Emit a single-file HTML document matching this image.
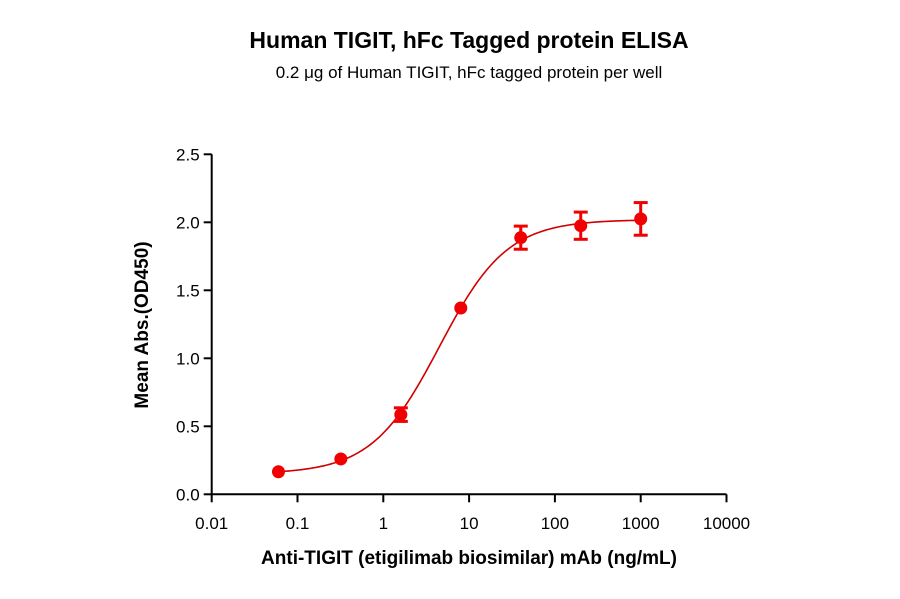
<!DOCTYPE html>
<html><head><meta charset="utf-8"><style>
body{margin:0;background:#fff}
svg text{font-family:"Liberation Sans",Arial,sans-serif}
</style></head><body>
<svg width="900" height="594" viewBox="0 0 900 594" xmlns="http://www.w3.org/2000/svg">
<text x="469" y="48" text-anchor="middle" font-size="23" font-weight="bold">Human TIGIT, hFc Tagged protein ELISA</text>
<text x="469" y="78" text-anchor="middle" font-size="17">0.2 μg of Human TIGIT, hFc tagged protein per well</text>
<g id="axes"></g>
<g id="marks"></g>
<text x="469" y="564" text-anchor="middle" font-size="19" font-weight="bold">Anti-TIGIT (etigilimab biosimilar) mAb (ng/mL)</text>
<text transform="translate(148,325) rotate(-90)" text-anchor="middle" font-size="19" font-weight="bold">Mean Abs.(OD450)</text>
</svg>
<script>
const concentrations=[0.06,0.32,1.6,8,40,200,1000];
const meanAbs=[0.166,0.26,0.586,1.37,1.887,1.975,2.025];
const errors=[0,0,0.05,0,0.085,0.1,0.12];
const xTicks=[0.01,0.1,1,10,100,1000,10000];
const xTickLabels=["0.01","0.1","1","10","100","1000","10000"];
const yTicks=[0,0.5,1,1.5,2,2.5];
const yTickLabels=["0.0","0.5","1.0","1.5","2.0","2.5"];
const fitBottom=0.15, fitTop=2.02, fitEC50=4.5, fitHill=1.1;
const NS="http://www.w3.org/2000/svg";
const x=v=>211.7+(Math.log10(v)+2)*85.8;
const y=v=>494.3-v*136;
function mk(tag,attrs,parent){const e=document.createElementNS(NS,tag);for(const k in attrs)e.setAttribute(k,attrs[k]);parent.appendChild(e);return e;}
const ax=document.getElementById('axes'), mg=document.getElementById('marks');
let e=mk('line',{x1:x(0.01),y1:y(0),x2:x(10000),y2:y(0),stroke:'#000','stroke-width':2},ax);


e=mk('line',{x1:x(0.01),y1:y(0)+1,x2:x(0.01),y2:y(2.5),stroke:'#000','stroke-width':2},ax);


xTicks.forEach((t,i)=>{
 mk('line',{x1:x(t),y1:y(0),x2:x(t),y2:y(0)+8,stroke:'#000','stroke-width':2},ax);
 const tx=mk('text',{x:x(t),y:529,'text-anchor':'middle','font-size':17},ax);tx.textContent=xTickLabels[i];
 
 
});
yTicks.forEach((t,i)=>{
 mk('line',{x1:x(0.01)-8,y1:y(t),x2:x(0.01),y2:y(t),stroke:'#000','stroke-width':2},ax);
 const tx=mk('text',{x:x(0.01)-12,y:y(t)+6,'text-anchor':'end','font-size':17},ax);tx.textContent=yTickLabels[i];
 
 
});
let d='';
const lo=Math.log10(concentrations[0]),hi=Math.log10(concentrations[concentrations.length-1]);
for(let i=0;i<=200;i++){const lv=lo+(hi-lo)*i/200,c=Math.pow(10,lv);
 const v=fitBottom+(fitTop-fitBottom)/(1+Math.pow(fitEC50/c,fitHill));
 d+=(i?'L':'M')+x(c).toFixed(2)+','+y(v).toFixed(2);}
e=mk('path',{d:d,fill:'none',stroke:'#d00000','stroke-width':1.6},mg);


concentrations.forEach((c,i)=>{
 const cx=x(c),cy=y(meanAbs[i]),er=errors[i];
 if(er>0){
  const g=mk('g',{stroke:'#f00000','stroke-width':3},mg);
  
  
  mk('line',{x1:cx,y1:y(meanAbs[i]+er),x2:cx,y2:y(meanAbs[i]-er)},g);
  mk('line',{x1:cx-7,y1:y(meanAbs[i]+er),x2:cx+7,y2:y(meanAbs[i]+er)},g);
  mk('line',{x1:cx-7,y1:y(meanAbs[i]-er),x2:cx+7,y2:y(meanAbs[i]-er)},g);
 }
 const p=mk('circle',{cx:cx,cy:cy,r:6.5,fill:'#f00000'},mg);
 
 
});
</script>
</body></html>
